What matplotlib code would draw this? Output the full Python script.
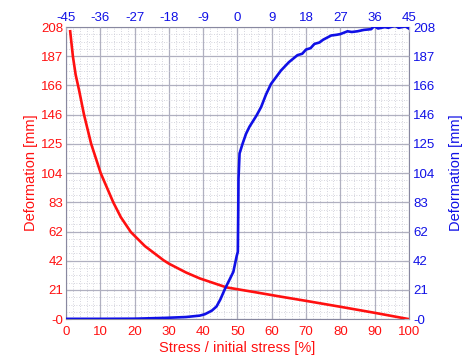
import numpy as np
import matplotlib
matplotlib.use('Agg')
import matplotlib.pyplot as plt
from matplotlib.ticker import FixedLocator, AutoMinorLocator

plt.rcParams['font.family'] = ['Liberation Sans', 'DejaVu Sans']
plt.rcParams['axes.unicode_minus'] = False

# red curve: bottom axis [% of initial stress] vs deformation [mm]
red_x = [1.2, 2.0, 2.8, 3.8, 5.2, 7.3, 10.1, 13.8, 16.0, 18.9, 23.0, 28.4,
         30.0, 35.0, 39.0, 46.8, 54.6, 62.4, 70.0, 80.0, 90.0, 100.0]
red_y = [205, 187, 174, 163, 146, 125, 104, 83, 72.5, 62, 52, 42,
         39.5, 33.2, 29, 22.6, 19.4, 16.1, 13.0, 8.8, 4.5, 0.0]

# blue curve: top axis vs deformation [mm]
blue_x = [-45, -36, -27, -18.9, -13.5, -9.9, -8.55, -6.75, -5.5, -4.5, -3.24,
          -2.1, -1.08, -0.2, 0.1, 0.2, 0.27, 0.55, 1.35, 2.25, 3.15, 3.96, 5.0,
          6.2, 7.5, 8.8, 9.9, 11.4, 13.5, 15.75, 17.0, 18.0, 19.2, 20.2, 21.5,
          22.5, 24.6, 26.0, 27.0, 28.9, 30.0, 31.5, 33.2, 35.1, 35.9, 36.9,
          38.7, 39.6, 41.4, 42.3, 44.1, 45.0]
blue_y = [0.2, 0.2, 0.3, 0.9, 1.5, 2.5, 3.5, 6, 9, 14, 21.8,
          28, 33.7, 45, 48, 75, 100, 118, 125, 132, 137, 140.5, 145,
          151, 160, 167.5, 171.5, 177, 183, 188, 189, 192, 193, 196, 197,
          199, 202, 202.5, 203, 205, 204.5, 205, 206, 206.5, 208.7, 207,
          208, 207.5, 209, 207.5, 208.5, 207]

y_ticks = [0, 20.8, 41.6, 62.4, 83.2, 104, 124.8, 145.6, 166.4, 187.2, 208]
y_labels = ['-0', '21', '42', '62', '83', '104', '125', '146', '166', '187', '208']
x_ticks = np.arange(0, 101, 10)
top_ticks = np.arange(-45, 46, 9)

red = '#ff1010'
blue = '#1010e6'
grid_c = '#b0b0c0'

fig = plt.figure(figsize=(4.62, 3.61), dpi=100)
rect = [0.143, 0.116, 0.742, 0.809]
ax = fig.add_axes(rect)
ax.plot(red_x, red_y, color=red, lw=1.9, zorder=3)
ax.set_xlim(0, 100)
ax.set_ylim(0, 208)
ax.xaxis.set_major_locator(FixedLocator(x_ticks))
ax.yaxis.set_major_locator(FixedLocator(y_ticks))
ax.set_yticklabels(y_labels)
ax.xaxis.set_minor_locator(AutoMinorLocator(5))
ax.yaxis.set_minor_locator(AutoMinorLocator(4))
ax.grid(which='major', color=grid_c, lw=0.9, ls='-')
ax.grid(which='minor', color='#c8c8d4', lw=0.6, ls=(0, (1, 2)))
ax.tick_params(which='both', direction='in', colors=grid_c, labelsize=9.5)
ax.tick_params(which='minor', length=0)
ax.tick_params(axis='x', labelcolor=red, pad=5)
ax.tick_params(axis='y', labelcolor=red, pad=2)
ax.set_xlabel('Stress / initial stress [%]', color=red, fontsize=10.5, labelpad=2)
ax.set_ylabel('Deformation [mm]', color=red, fontsize=10.5, labelpad=2)
for s in ax.spines.values():
    s.set_color('#8888a0')

ax2 = fig.add_axes(rect, frameon=False)
ax2.plot(blue_x, blue_y, color=blue, lw=1.9, zorder=3)
ax2.set_xlim(-45, 45)
ax2.set_ylim(0, 208)
ax2.xaxis.tick_top()
ax2.yaxis.tick_right()
ax2.yaxis.set_label_position('right')
ax2.xaxis.set_major_locator(FixedLocator(top_ticks))
ax2.yaxis.set_major_locator(FixedLocator(y_ticks))
ax2.set_yticklabels(y_labels)
ax2.tick_params(which='both', direction='in', colors=grid_c, labelsize=9.5)
ax2.tick_params(axis='x', labelcolor=blue, pad=2)
ax2.tick_params(axis='y', labelcolor=blue, pad=3)
ax2.set_ylabel('Deformation [mm]', color=blue, fontsize=10.5, labelpad=10)

fig.savefig('out.png', dpi=100)
